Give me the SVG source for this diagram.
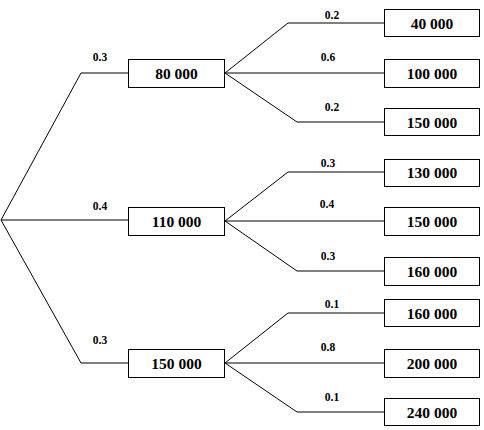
<svg xmlns="http://www.w3.org/2000/svg" width="484" height="430" viewBox="0 0 484 430">
<style>
.box{fill:#fff;stroke:#000;stroke-width:1}
.val{font-family:"Liberation Serif",serif;font-weight:bold;font-size:15.5px;text-anchor:middle;fill:#000}
.p{font-family:"Liberation Serif",serif;font-weight:bold;font-size:11.5px;text-anchor:middle;fill:#000}
.c{fill:none;stroke:#000;stroke-width:1}
</style>
<rect width="484" height="430" fill="#fff"/>
<g id="connectors">
<polyline class="c" points="1,220 81,73 128,73"/>
<polyline class="c" points="1,220 128,220"/>
<polyline class="c" points="1,220 81,363 128,363"/>
<polyline class="c" points="225,73 288,23 384,23"/>
<polyline class="c" points="225,73 384,73"/>
<polyline class="c" points="225,73 297,122 384,122"/>
<polyline class="c" points="225,221 288,172 384,172"/>
<polyline class="c" points="225,221 384,221"/>
<polyline class="c" points="225,221 297,271 384,271"/>
<polyline class="c" points="225,363 288,313 384,313"/>
<polyline class="c" points="225,363 384,363"/>
<polyline class="c" points="225,363 297,412 384,412"/>
<text class="p" x="100" y="61">0.3</text>
<text class="p" x="100" y="210">0.4</text>
<text class="p" x="100" y="344">0.3</text>
<text class="p" x="332" y="19">0.2</text>
<text class="p" x="328" y="61">0.6</text>
<text class="p" x="332" y="111">0.2</text>
<text class="p" x="328" y="167">0.3</text>
<text class="p" x="327" y="208">0.4</text>
<text class="p" x="328" y="260">0.3</text>
<text class="p" x="332" y="308">0.1</text>
<text class="p" x="328" y="351">0.8</text>
<text class="p" x="332" y="401">0.1</text>
</g>
<g id="n80000"><rect class="box" x="128.5" y="59.5" width="96" height="28"/><text class="val" x="176.5" y="78.5">80 000</text></g>
<g id="n110000"><rect class="box" x="128.5" y="207.5" width="96" height="28"/><text class="val" x="176.5" y="226.5">110 000</text></g>
<g id="n150000a"><rect class="box" x="128.5" y="349.5" width="96" height="28"/><text class="val" x="176.5" y="368.5">150 000</text></g>
<g id="n40000"><rect class="box" x="384.5" y="9.5" width="95" height="27"/><text class="val" x="432" y="28.5">40 000</text></g>
<g id="n100000"><rect class="box" x="384.5" y="59.5" width="95" height="28"/><text class="val" x="432" y="78.5">100 000</text></g>
<g id="n150000b"><rect class="box" x="384.5" y="108.5" width="95" height="27"/><text class="val" x="432" y="127.5">150 000</text></g>
<g id="n130000"><rect class="box" x="384.5" y="159.5" width="95" height="27"/><text class="val" x="432" y="178">130 000</text></g>
<g id="n150000c"><rect class="box" x="384.5" y="207.5" width="95" height="28"/><text class="val" x="432" y="226.5">150 000</text></g>
<g id="n160000a"><rect class="box" x="384.5" y="257.5" width="95" height="28"/><text class="val" x="432" y="276.5">160 000</text></g>
<g id="n160000b"><rect class="box" x="384.5" y="299.5" width="95" height="27"/><text class="val" x="432" y="318.5">160 000</text></g>
<g id="n200000"><rect class="box" x="384.5" y="349.5" width="95" height="28"/><text class="val" x="432" y="368.5">200 000</text></g>
<g id="n240000"><rect class="box" x="384.5" y="398.5" width="95" height="27"/><text class="val" x="432" y="417.5">240 000</text></g>
</svg>
